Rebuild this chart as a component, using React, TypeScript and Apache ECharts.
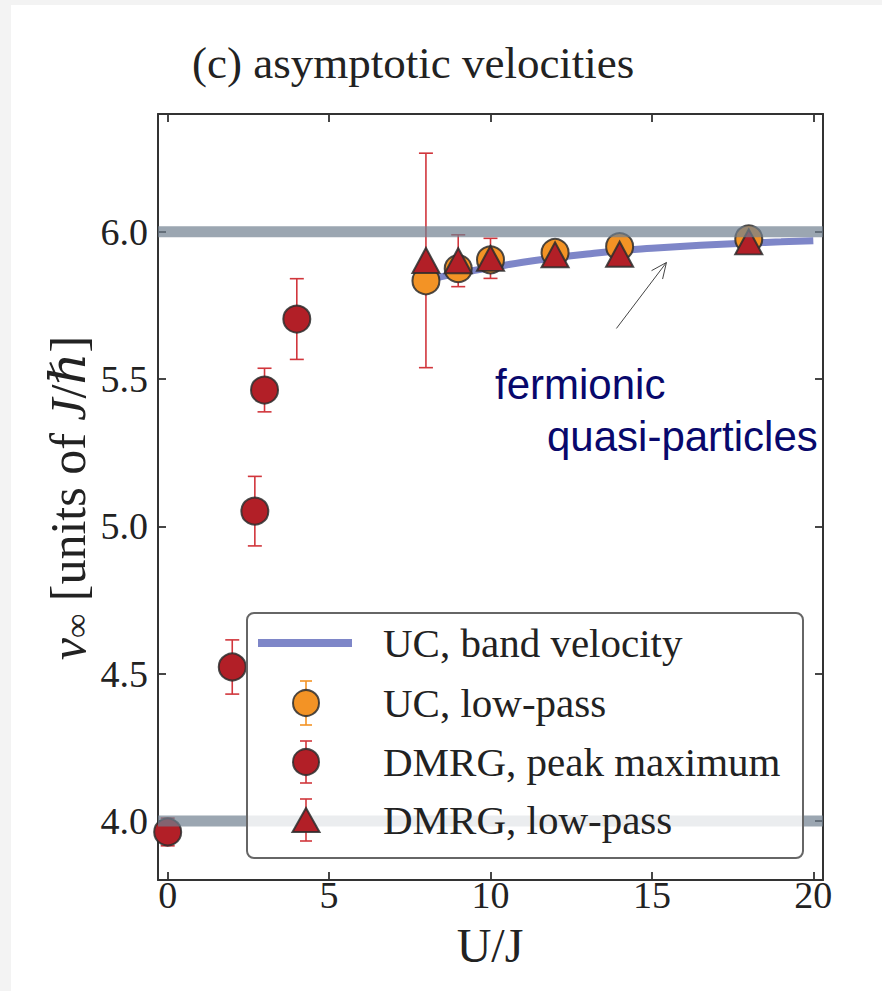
import React, { useEffect, useRef } from 'react';
import * as echarts from 'echarts';

// ---------- data ----------
const xMin = -0.3;
const xMax = 20.3;
const yMin = 3.8;
const yMax = 6.4;
const xTicks = [0, 5, 10, 15, 20];
const yTicks = [4.0, 4.5, 5.0, 5.5, 6.0];
const refLevels = [4.0, 6.0];

// UC, band velocity (curve)
const bandU = [8, 9, 10, 11, 12, 13, 14, 15, 16, 17, 18, 19, 20];
const bandV = [5.835, 5.86, 5.878, 5.897, 5.912, 5.925, 5.936, 5.944, 5.951, 5.957, 5.962, 5.966, 5.97];

// UC, low-pass
const ucU = [8, 9, 10, 12, 14, 18];
const ucV = [5.834, 5.875, 5.905, 5.93, 5.95, 5.976];
const ucErr = [0.02, 0.02, 0.02, 0.02, 0.02, 0.02];

// DMRG, peak maximum
const peakU = [0, 2, 2.7, 3, 4];
const peakV = [3.963, 4.523, 5.052, 5.463, 5.704];
const peakErr = [0.047, 0.092, 0.118, 0.074, 0.137];

// DMRG, low-pass
const lpU = [8, 9, 10, 12, 14, 18];
const lpV = [5.903, 5.902, 5.91, 5.922, 5.924, 5.966];
const lpErr = [0.364, 0.088, 0.068, 0.02, 0.02, 0.02];

// annotation arrow (data coordinates: from -> to)
const arrowFrom = [13.9, 5.672];
const arrowTo = [15.45, 5.896];

const legendLabels = ['UC, band velocity', 'UC, low-pass', 'DMRG, peak maximum', 'DMRG, low-pass'];
const titleText = '(c) asymptotic velocities';
const xName = 'U/J';
const annotationLines = ['fermionic', 'quasi-particles'];

// ---------- styles ----------
const SERIF = "'Liberation Serif', 'DejaVu Serif', serif";
const SANS = "'Liberation Sans', Arial, sans-serif";
const TXT = '#222';
const AXIS = '#333';
const ORANGE = '#f39325';
const RED = '#b21f27';
const ERR_RED = '#d1363c';
const EDGE = 'rgba(45,45,45,0.85)';
const BAND = '#7e86c8';
const REF = '#708090';
const NAVY = '#08086c';

function errSeries(name: string, us: number[], vs: number[], es: number[], color: string) {
  return {
    type: 'custom',
    name,
    z: 3,
    silent: true,
    clip: false,
    data: us.map((u, i) => [u, vs[i] - es[i], vs[i] + es[i]]),
    encode: { x: 0, y: [1, 2] },
    renderItem: (_p: any, api: any) => {
      const x = api.value(0);
      const top = api.coord([x, api.value(2)]);
      const bot = api.coord([x, api.value(1)]);
      const cw = 7;
      const st = { stroke: color, lineWidth: 1.6 };
      return {
        type: 'group',
        children: [
          { type: 'line', shape: { x1: top[0], y1: top[1], x2: bot[0], y2: bot[1] }, style: st },
          { type: 'line', shape: { x1: top[0] - cw, y1: top[1], x2: top[0] + cw, y2: top[1] }, style: st },
          { type: 'line', shape: { x1: bot[0] - cw, y1: bot[1], x2: bot[0] + cw, y2: bot[1] }, style: st },
        ],
      };
    },
  };
}

function axisBase(extra: any) {
  return {
    type: 'value',
    axisLine: { show: true, onZero: false, lineStyle: { color: AXIS, width: 2 } },
    splitLine: { show: false },
    ...extra,
  };
}

function buildOption() {
  const tick = (vals: number[]) => ({
    show: true,
    inside: true,
    length: 8,
    customValues: vals,
    lineStyle: { color: AXIS, width: 1.8 },
  });
  const labelStyle = { fontSize: 38, lineHeight: 34, fontFamily: SERIF, color: TXT };

  // legend graphics
  const lx = 306;
  const rows = [643, 703, 762, 820];
  const legendEls: any[] = [
    {
      type: 'rect',
      shape: { x: 247, y: 613, width: 556, height: 245, r: 7 },
      style: { fill: 'rgba(255,255,255,0.8)', stroke: '#666', lineWidth: 2 },
      z: 100,
    },
    {
      type: 'line',
      shape: { x1: 258, y1: rows[0], x2: 352, y2: rows[0] },
      style: { stroke: BAND, lineWidth: 8 },
      z: 101,
    },
  ];
  const errEl = (cy: number, h: number, color: string) => {
    const st = { stroke: color, lineWidth: 1.6 };
    return [
      { type: 'line', shape: { x1: lx, y1: cy - h, x2: lx, y2: cy + h }, style: st, z: 101 },
      { type: 'line', shape: { x1: lx - 6, y1: cy - h, x2: lx + 6, y2: cy - h }, style: st, z: 101 },
      { type: 'line', shape: { x1: lx - 6, y1: cy + h, x2: lx + 6, y2: cy + h }, style: st, z: 101 },
    ];
  };
  legendEls.push(...errEl(rows[1], 22, ORANGE));
  legendEls.push({ type: 'circle', shape: { cx: lx, cy: rows[1], r: 13 }, style: { fill: ORANGE, stroke: EDGE, lineWidth: 2 }, z: 102 });
  legendEls.push(...errEl(rows[2], 21, ERR_RED));
  legendEls.push({ type: 'circle', shape: { cx: lx, cy: rows[2], r: 13 }, style: { fill: RED, stroke: EDGE, lineWidth: 2 }, z: 102 });
  legendEls.push(...errEl(rows[3], 21, ERR_RED));
  legendEls.push({
    type: 'polygon',
    shape: { points: [[lx, rows[3] - 12], [lx - 13.5, rows[3] + 12], [lx + 13.5, rows[3] + 12]] },
    style: { fill: RED, stroke: EDGE, lineWidth: 2 },
    z: 102,
  });
  legendLabels.forEach((t, i) => {
    legendEls.push({
      type: 'text',
      x: 383,
      y: rows[i],
      style: { text: t, fontSize: 41, fontFamily: SERIF, fill: TXT, align: 'left', verticalAlign: 'middle' },
      z: 102,
    });
  });

  const graphic: any[] = [
    { type: 'rect', shape: { x: 11, y: 5, width: 871, height: 986 }, style: { fill: '#ffffff' }, z: -10 },
    {
      type: 'text',
      x: 192,
      y: 63,
      style: { text: titleText, fontSize: 45, fontFamily: SERIF, fill: TXT, align: 'left', verticalAlign: 'middle' },
    },
    {
      type: 'text',
      x: 68,
      y: 498,
      rotation: Math.PI / 2,
      style: {
        text: '{i|v}{s|∞} [units of {i|J}/{i|ℏ}]',
        fontSize: 50,
        fontFamily: SERIF,
        fill: TXT,
        align: 'center',
        verticalAlign: 'middle',
        rich: {
          i: { fontStyle: 'italic', fontSize: 50, fontFamily: SERIF, fill: TXT },
          s: { fontSize: 34, fontFamily: SERIF, fill: TXT, verticalAlign: 'bottom' },
        },
      },
    },
    {
      type: 'text',
      x: 490,
      y: 945,
      style: { text: xName, fontSize: 48, lineHeight: 36, fontFamily: SERIF, fill: TXT, align: 'center', verticalAlign: 'middle' },
    },
    {
      type: 'text',
      x: 495,
      y: 384,
      style: { text: annotationLines[0], fontSize: 42, fontFamily: SANS, fill: NAVY, align: 'left', verticalAlign: 'middle' },
      z: 20,
    },
    {
      type: 'text',
      x: 547,
      y: 436,
      style: { text: annotationLines[1], fontSize: 42, fontFamily: SANS, fill: NAVY, align: 'left', verticalAlign: 'middle' },
      z: 20,
    },
    ...legendEls,
  ];

  return {
    animation: false,
    backgroundColor: '#f3f3f3',
    grid: { left: 158, top: 114, right: 59, bottom: 111, containLabel: false },
    xAxis: [
      axisBase({
        position: 'bottom',
        min: xMin,
        max: xMax,
        axisTick: tick(xTicks),
        axisLabel: { ...labelStyle, customValues: xTicks, margin: -2 },
      }),
      axisBase({
        position: 'top',
        min: xMin,
        max: xMax,
        axisTick: tick(xTicks),
        axisLabel: { show: false },
      }),
    ],
    yAxis: [
      axisBase({
        position: 'left',
        min: yMin,
        max: yMax,
        axisTick: tick(yTicks),
        axisLabel: { ...labelStyle, customValues: yTicks, margin: 10, formatter: (v: number) => v.toFixed(1) },
      }),
      axisBase({
        position: 'right',
        min: yMin,
        max: yMax,
        axisTick: tick(yTicks),
        axisLabel: { show: false },
      }),
    ],
    graphic,
    series: [
      {
        type: 'line',
        name: legendLabels[0],
        data: bandU.map((u, i) => [u, bandV[i]]),
        symbol: 'none',
        smooth: true,
        lineStyle: { color: BAND, width: 7 },
        z: 2,
        silent: true,
      },
      errSeries('ucErr', ucU, ucV, ucErr, ORANGE),
      errSeries('peakErr', peakU, peakV, peakErr, ERR_RED),
      errSeries('lpErr', lpU, lpV, lpErr, ERR_RED),
      {
        type: 'scatter',
        name: legendLabels[1],
        data: ucU.map((u, i) => [u, ucV[i]]),
        symbol: 'circle',
        symbolSize: 27,
        itemStyle: { color: ORANGE, borderColor: EDGE, borderWidth: 2, opacity: 1 },
        z: 4,
      },
      {
        type: 'scatter',
        name: legendLabels[2],
        data: peakU.map((u, i) => [u, peakV[i]]),
        symbol: 'circle',
        symbolSize: 27,
        itemStyle: { color: RED, borderColor: EDGE, borderWidth: 2, opacity: 1 },
        z: 4,
      },
      {
        type: 'scatter',
        name: legendLabels[3],
        data: lpU.map((u, i) => [u, lpV[i]]),
        symbol: 'triangle',
        symbolSize: [27, 25],
        itemStyle: { color: RED, borderColor: EDGE, borderWidth: 2, opacity: 1 },
        z: 4,
      },
      ...refLevels.map((lv) => ({
        type: 'line',
        name: 'ref' + lv,
        data: [[xMin, lv], [xMax, lv]],
        symbol: 'none',
        lineStyle: { color: REF, width: 11, opacity: 0.7, cap: 'butt' },
        z: 5,
        silent: true,
      })),
      {
        type: 'custom',
        name: 'arrow',
        z: 6,
        silent: true,
        data: [[arrowFrom[0], arrowFrom[1], arrowTo[0], arrowTo[1]]],
        encode: { x: [0, 2], y: [1, 3] },
        renderItem: (_p: any, api: any) => {
          const a = api.coord([api.value(0), api.value(1)]);
          const b = api.coord([api.value(2), api.value(3)]);
          const ang = Math.atan2(b[1] - a[1], b[0] - a[0]);
          const L = 17;
          const spread = 0.42;
          const h1 = [b[0] - L * Math.cos(ang - spread), b[1] - L * Math.sin(ang - spread)];
          const h2 = [b[0] - L * Math.cos(ang + spread), b[1] - L * Math.sin(ang + spread)];
          const st = { stroke: '#444', lineWidth: 1 };
          return {
            type: 'group',
            children: [
              { type: 'line', shape: { x1: a[0], y1: a[1], x2: b[0], y2: b[1] }, style: st },
              { type: 'polyline', shape: { points: [h1, b, h2] }, style: { ...st, fill: 'none' } },
            ],
          };
        },
      },
    ],
  };
}

export default function App() {
  const ref = useRef<HTMLDivElement>(null);
  useEffect(() => {
    if (!ref.current) return;
    const chart = echarts.init(ref.current, null, { renderer: 'svg' });
    chart.setOption(buildOption() as any);
    return () => chart.dispose();
  }, []);
  return (
    <div
      ref={ref}
      style={{ position: 'fixed', left: 0, top: 0, width: 882, height: 991 }}
    />
  );
}
